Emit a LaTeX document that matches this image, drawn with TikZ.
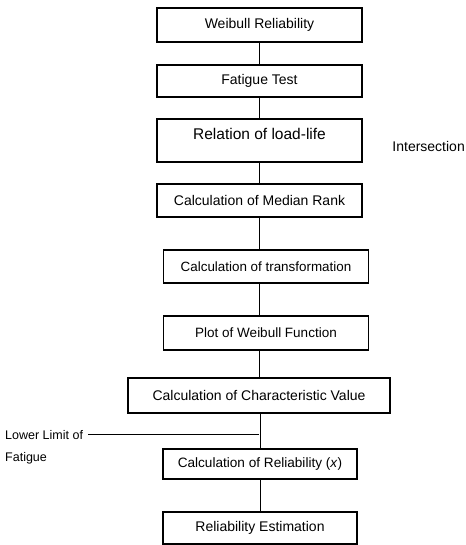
\documentclass[tikz,border=0pt]{standalone}
\usepackage{fontspec}
\setmainfont{Liberation Sans}
\begin{document}
\begin{tikzpicture}[x=1pt, y=-1pt,
		stepbox/.style={draw, line width=1.1pt, minimum width=205pt, minimum height=33pt, inner sep=0pt, font=\fontsize{14}{16}\selectfont},
		link/.style={line width=1pt}]
		\useasboundingbox (0,0) rectangle (465,545);
		\node[stepbox, minimum height=34pt] at (259.5,25) (b1) {Weibull Reliability};
		\node[stepbox, minimum height=32pt] at (259.5,81) (b2) {Fatigue Test};
		\node[stepbox, minimum height=43pt, text depth=14pt, font=\fontsize{15.5}{18}\selectfont] at (259.5,140.5) (b3) {Relation of load-life};
		\node[stepbox] at (259.5,200.5) (b4) {Calculation of Median Rank};
		\node[stepbox, font=\fontsize{13.4}{15}\selectfont] at (266,266.5) (b5) {Calculation of transformation};
		\node[stepbox, minimum height=34pt, font=\fontsize{13.5}{15}\selectfont] at (266,333) (b6) {Plot of Weibull Function};
		\node[stepbox, minimum width=262pt, minimum height=35pt] at (259,395.5) (b7) {Calculation of Characteristic Value};
		\node[stepbox, minimum width=194pt, minimum height=30pt, font=\fontsize{13.6}{15}\selectfont] at (260,464) (b8) {Calculation of Reliability (\textit{x})};
		\node[stepbox, minimum width=194pt, minimum height=32pt] at (260,528) (b9) {Reliability Estimation};
		\node[font=\fontsize{14}{16}\selectfont, anchor=east, inner sep=0pt] at (465,146) (isec) {Intersection};
		\node[anchor=north west, align=left, inner sep=0pt, font=\fontsize{12.5}{22}\selectfont] at (5,430) (lowlim) {Lower Limit of\\Fatigue};
		% trunk
		\draw[link] (b1.south) -- (b2.north) (b2.south) -- (b3.north) (b3.south) -- (b4.north)
		(b4.south) -- (b4.south |- b5.north) (b5.north -| b4.south) ++(0,33) -- (b4.south |- b6.north)
		(b6.north -| b4.south) ++(0,34) -- (b7.north -| b4.south)
		(b7.south -| b8.north) -- (b8.north) (b8.south) -- (b9.north);
		\coordinate (ll) at ([xshift=5pt, yshift=-4pt]lowlim.north east);
		\coordinate (jn) at (259,0);
		\draw[line width=0.8pt] (ll) -- (ll -| jn);
	\end{tikzpicture}
\end{document}
